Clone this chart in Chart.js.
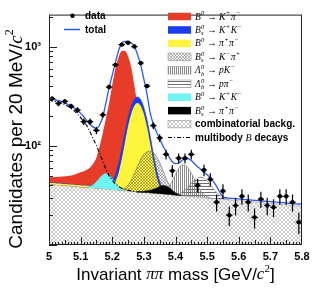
<!DOCTYPE html>
<html>
<head>
<meta charset="utf-8">
<script src="https://cdn.jsdelivr.net/npm/chart.js@4.4.1/dist/chart.umd.min.js"></script>
<style>
  body { margin: 0; background: #fff; }
  #wrap { width: 316px; height: 291px; position: relative; }
</style>
</head>
<body>
<div id="wrap"><canvas id="mycanvas"></canvas></div>
<script>
// grid of invariant mass values the fit curves are read at (GeV/c^2)
var masses = [5.00,5.01,5.02,5.03,5.04,5.05,5.06,5.07,5.08,5.09,
  5.10,5.11,5.12,5.13,5.14,5.15,5.16,5.17,5.18,5.19,
  5.20,5.21,5.22,5.23,5.24,5.25,5.26,5.27,5.28,5.29,
  5.30,5.31,5.32,5.33,5.34,5.35,5.36,5.37,5.38,5.39,
  5.40,5.41,5.42,5.43,5.44,5.45,5.46,5.47,5.48,5.49,
  5.50,5.51,5.52,5.53,5.54,5.55,5.56,5.57,5.58,5.59,
  5.60,5.61,5.62,5.63,5.64,5.65,5.66,5.67,5.68,5.69,
  5.70,5.71,5.72,5.73,5.74,5.75,5.76,5.77,5.78,5.79,
  5.80];

// combinatorial background level
var bkg = [41.0,40.7,40.5,40.2,40.0,39.7,39.5,39.2,39.0,38.7,
  38.5,38.2,38.0,37.8,37.5,37.3,37.1,36.8,36.6,36.4,
  36.1,35.9,35.7,35.4,35.2,35.0,34.8,34.5,34.3,34.1,
  33.9,33.7,33.5,33.2,33.0,32.8,32.6,32.4,32.2,32.0,
  31.8,31.6,31.4,31.2,31.0,30.8,30.6,30.4,30.2,30.0,
  29.8,29.6,29.4,29.3,29.1,28.9,28.7,28.5,28.4,28.2,
  28.0,27.8,27.6,27.5,27.3,27.1,26.9,26.8,26.6,26.4,
  26.2,26.1,25.9,25.7,25.6,25.4,25.2,25.1,24.9,24.8,
  24.6];

// total fit
var total = [300,296,291,285,278,270,261,251,240,227,
  212,196,179,164,154,150,163,195,270,385,
  515,690,910,1085,1125,1130,1085,1000,830,650,
  470,330,215,165,138,118,100,88,77,69,
  66,67,71,74,74,71,66,61.5,58,54,
  51,47.5,43.5,39,34,30.5,30.0,29.7,29.5,29.3,
  29.1,28.9,28.7,28.6,28.4,28.2,28.0,27.9,27.7,27.5,
  27.3,27.2,27.0,26.8,26.7,26.5,26.3,26.2,26.0,25.9,
  25.7];

// components: height above the background, starting at masses[...From]
var redFrom = 0;   // B0 -> K+ pi-
var red = [7.0,7.5,7.9,8.5,9.0,9.6,10.2,11.1,12.2,13.8,
  15.5,17.3,19.5,22.7,28.5,38.7,61,98,153,234,
  374,564,744,865,870,765,585,365,216,106,
  46,18,6.5,1.8,0.4,0];
var yellowFrom = 0;   // B0 -> pi+ pi-
var yellow = [1.5,1.5,1.5,1.5,1.5,1.5,1.5,1.5,1.5,1.5,
  1.5,1.5,1.5,1.5,1.5,1.5,1.5,1.5,1.5,2.1,
  3.6,7.7,17.7,38,73,122,175,218,235,218,
  175,121,72,37,16.4,6.3,2.1,0.6,0.2];
var bsKKFrom = 17;   // Bs -> K+ K-
var bsKK = [0.5,1.1,2.3,4.2,7.5,12,18,25,32,38,41,41,38,32,25,18,12,7.5,4.2,2.3,1.1,0.5];
var bsKpiFrom = 22;   // Bs -> K- pi+
var bsKpi = [0.4,1.0,2.4,5.2,10.1,17.8,27.8,38.9,48.5,53,55,52,45,35,24,15,8,3.5,1.5,0.5];
var lbpKFrom = 35;   // Lb -> p K-
var lbpK = [0.4,1.1,3.0,6.5,12.3,20.0,27.6,32.3,32.5,28.5,22.0,15.0,9.0,4.8,2.2,0.9,0.3];
var lbppiFrom = 39;   // Lb -> p pi-
var lbppi = [0.2,0.5,1.2,2.4,4.5,7.4,10.9,14.4,17.0,18.0,17.0,14.4,10.9,7.4,4.5,2.4,1.2,0.5,0.2];
var cyanFrom = 12;   // B0 -> K+ K-
var cyan = [0.4,1.2,3.1,6.3,10.6,14.4,16,14.4,10.6,6.3,3.1,1.2,0.4];
var bspipiFrom = 28;   // Bs -> pi+ pi-
var bspipi = [0.3,0.6,1.0,1.5,2.2,3.2,4.5,6.0,7.2,7.0,5.5,3.5,1.8,0.7,0.2];
var multiFrom = 0;   // multibody B decays
var multi = [247,243,240,234,228,220,211,199,186,170,
  154,137,120,100,80,63,47,33,21.4,13.6,
  8.9,5.6,3.3,2.0,1.2,0.6,0.3,0.1,0,0,0];

// data, 20 MeV bins
var binCentres = [5.01,5.03,5.05,5.07,5.09,5.11,5.13,5.15,5.17,5.19,
  5.21,5.23,5.25,5.27,5.29,5.31,5.33,5.35,5.37,5.39,
  5.41,5.43,5.45,5.47,5.49,5.51,5.53,5.55,5.57,5.59,
  5.61,5.63,5.65,5.67,5.69,5.71,5.73,5.75,5.77,5.79];
var counts = [299,267,280,250,229,175,175,143,205,391,
  654,1045,1094,1000,683,400,160,120,82,56,
  75,75,82,40,57,46,27,35,20,25,
  31,27,19,29,25,24,31,31,27,17];
var binHalf = 0.01;

var componentLabels = ['B^{0} → K^{+}π^{−}','B^{0}_{s} → K^{+}K^{−}','B^{0} → π^{+}π^{−}',
  'B^{0}_{s} → K^{−}π^{+}','Λ^{0}_{b} → pK^{−}','Λ^{0}_{b} → pπ^{−}',
  'B^{0} → K^{+}K^{−}','B^{0}_{s} → π^{+}π^{−}'];

var xTickLabels = ['5','5.1','5.2','5.3','5.4','5.5','5.6','5.7','5.8'];

var ctx = document.getElementById('mycanvas').getContext('2d');

function tile(size, draw){
  var c = document.createElement('canvas');
  c.width = size; c.height = size;
  draw(c.getContext('2d'));
  return ctx.createPattern(c, 'repeat');
}
var combPat = tile(4, function(g){
  g.strokeStyle = '#a4a4a4'; g.lineWidth = 0.6;
  g.beginPath(); g.moveTo(0,0); g.lineTo(4,4); g.moveTo(4,0); g.lineTo(0,4); g.stroke();
});
var kpiPat = tile(3, function(g){
  g.strokeStyle = '#444'; g.lineWidth = 0.4;
  g.beginPath(); g.moveTo(0,0); g.lineTo(3,3); g.moveTo(3,0); g.lineTo(0,3); g.stroke();
});
var pKPat = tile(2, function(g){ g.fillStyle = '#8a8a8a'; g.fillRect(0,0,1,2); });
var ppiPat = tile(3, function(g){ g.fillStyle = '#707070'; g.fillRect(0,0,3,1); });

function at(arr, from, k){ var j = k - from; return (j >= 0 && j < arr.length) ? arr[j] : 0; }
function curve(from, arr){
  return arr.map(function(h, i){ var k = from + i; return {x: masses[k], y: bkg[k] + h}; });
}

var bkgIndex = 11;
var yellowPts = curve(yellowFrom, yellow);
var bluePts = yellow.map(function(h, i){
  var k = yellowFrom + i;
  return {x: masses[k], y: bkg[k] + h + at(bsKK, bsKKFrom, k)};
});

var RED = '#e63c28', BLUE = '#1a3cf0', YELLOW = '#fff53c', CYAN = '#6ff3f3', TOTAL = '#2a58f0';

var datasets = [
  {label:'data', data: binCentres.map(function(m,i){ return {x:m, y:counts[i]}; }),
   showLine:false, pointRadius:2.2, pointBackgroundColor:'#000', pointBorderWidth:0},
  {label:'total', data: masses.map(function(m,k){ return {x:m, y:total[k]}; }),
   borderColor: TOTAL, borderWidth:1.3, fill:false},
  {label:'multibody B decays', data: multi.map(function(h,i){ var k = multiFrom+i; return {x:masses[k], y:bkg[k]+h}; }),
   borderColor:'#000', borderWidth:1.1, borderDash:[4,2,1,2], fill:false},
  {label: componentLabels[7], data: curve(bspipiFrom, bspipi), backgroundColor:'#000', borderColor:'#000', borderWidth:0.5, fill: bkgIndex},
  {label: componentLabels[6], data: curve(cyanFrom, cyan), backgroundColor: CYAN, borderColor:'#4cc8c8', borderWidth:0.5, fill: bkgIndex},
  {label: componentLabels[5], data: curve(lbppiFrom, lbppi), backgroundColor: ppiPat, borderColor:'#777', borderWidth:0.6, fill: bkgIndex},
  {label: componentLabels[4], data: curve(lbpKFrom, lbpK), backgroundColor: pKPat, borderColor:'#777', borderWidth:0.6, fill: bkgIndex},
  {label: componentLabels[3], data: curve(bsKpiFrom, bsKpi), backgroundColor: kpiPat, borderColor:'#666', borderWidth:0.6, fill: bkgIndex},
  {label: componentLabels[2], data: yellowPts, backgroundColor: YELLOW, borderWidth:0, fill: bkgIndex},
  {label: componentLabels[1], data: bluePts, backgroundColor: BLUE, borderColor: BLUE, borderWidth:0.8, fill: bkgIndex},
  {label: componentLabels[0], data: curve(redFrom, red), backgroundColor: RED, borderWidth:0, fill: bkgIndex},
  {label:'combinatorial backg.', data: masses.map(function(m,k){ return {x:m, y:bkg[k]}; }),
   backgroundColor: combPat, borderColor:'#999', borderWidth:0.6, fill:'start'}
];

// data error bars
var errorBars = {
  id: 'errorBars',
  afterDatasetsDraw: function(chart){
    var xs = chart.scales.x, ys = chart.scales.y, c = chart.ctx, a = chart.chartArea;
    c.save();
    c.beginPath(); c.rect(a.left, a.top, a.right - a.left, a.bottom - a.top); c.clip();
    c.strokeStyle = '#000'; c.lineWidth = 1.2;
    binCentres.forEach(function(m, i){
      var n = counts[i], e = Math.sqrt(n);
      var px = xs.getPixelForValue(m), py = ys.getPixelForValue(n);
      c.beginPath();
      c.moveTo(px, ys.getPixelForValue(n + e)); c.lineTo(px, ys.getPixelForValue(n - e));
      c.moveTo(xs.getPixelForValue(m - binHalf), py); c.lineTo(xs.getPixelForValue(m + binHalf), py);
      c.stroke();
    });
    c.restore();
  }
};

// frame and inside ticks, ROOT style
var frame = {
  id: 'frame',
  afterDraw: function(chart){
    var a = chart.chartArea, c = chart.ctx, xs = chart.scales.x, ys = chart.scales.y;
    c.save();
    c.strokeStyle = '#222'; c.lineWidth = 1;
    c.strokeRect(a.left + 0.5, a.top + 0.5, a.right - a.left - 1, a.bottom - a.top - 1);
    ys.ticks.forEach(function(t){
      var v = t.value, e = Math.floor(Math.log10(v) + 1e-9), mant = v / Math.pow(10, e);
      if (Math.abs(mant - Math.round(mant)) > 1e-6 || v >= ys.max) return;
      var py = Math.round(ys.getPixelForValue(v)) + 0.5;
      c.beginPath(); c.moveTo(a.left, py); c.lineTo(a.left + (Math.round(mant) === 1 ? 8 : 4), py); c.stroke();
    });
    for (var k = 1; k < 80; k++){
      var px = Math.round(xs.getPixelForValue(5 + k * 0.01)) + 0.5;
      var len = (k % 10 === 0) ? 8 : (k % 5 === 0 ? 5 : 3);
      c.beginPath(); c.moveTo(px, a.bottom); c.lineTo(px, a.bottom - len); c.stroke();
    }
    c.restore();
  }
};

// draw a run of [text, font, dy] pieces starting at x
function drawRun(c, parts, x, y){
  parts.forEach(function(p){
    c.font = p[1];
    c.fillText(p[0], x, y + (p[2] || 0));
    x += c.measureText(p[0]).width;
  });
  return x;
}
function runWidth(c, parts){
  var w = 0;
  parts.forEach(function(p){ c.font = p[1]; w += c.measureText(p[0]).width; });
  return w;
}

var sans17 = '17px "Liberation Sans"', serifI17 = 'italic 17px "Liberation Serif"';
var sans19 = '19px "Liberation Sans"', serifI19 = 'italic 19px "Liberation Serif"';
var xTitle = [['Invariant ', sans17], ['ππ', serifI17], [' mass [GeV/', sans17], ['c', serifI17],
  ['2', '11px "Liberation Serif"', -6], [']', sans17]];
var yTitle = [['Candidates per 20 MeV/', sans19], ['c', serifI19], ['2', '12px "Liberation Serif"', -7]];

var axisTitles = {
  id: 'axisTitles',
  afterDraw: function(chart){
    var c = chart.ctx, a = chart.chartArea;
    c.save();
    c.fillStyle = '#000'; c.textBaseline = 'middle'; c.textAlign = 'left';
    var wx = runWidth(c, xTitle);
    drawRun(c, xTitle, (a.left + a.right) / 2 - wx / 2, 275);
    c.translate(16.5, 139);
    c.rotate(-Math.PI / 2);
    var wy = runWidth(c, yTitle);
    drawRun(c, yTitle, -wy / 2, 0);
    c.restore();
  }
};

function parseTex(s){
  var out = [], re = /([\^_])\{([^}]*)\}|([^\^_]+)/g, m;
  while ((m = re.exec(s))){
    if (m[3] !== undefined) out.push({b:m[3], sp:'', sb:''});
    else if (m[1] === '^') out[out.length-1].sp = m[2];
    else out[out.length-1].sb = m[2];
  }
  return out;
}
function drawTex(c, s, x, y){
  parseTex(s).forEach(function(tk){
    c.font = 'italic 9.5px "Liberation Serif"';
    c.fillText(tk.b, x, y);
    x += c.measureText(tk.b).width;
    if (tk.sp || tk.sb){
      c.font = 'italic 6.5px "Liberation Serif"';
      var w = 0;
      if (tk.sp){ c.fillText(tk.sp, x + 0.3, y - 3.3); w = c.measureText(tk.sp).width; }
      if (tk.sb){ c.fillText(tk.sb, x + 0.3, y + 3.0); w = Math.max(w, c.measureText(tk.sb).width); }
      x += w + 0.8;
    }
  });
}

var legendBox = {
  id: 'legendBox',
  afterDraw: function(chart){
    var c = chart.ctx;
    c.save();
    c.textBaseline = 'middle'; c.textAlign = 'left'; c.fillStyle = '#000';
    // data / total
    c.beginPath(); c.arc(72.5, 15.7, 2.2, 0, Math.PI * 2); c.fill();
    c.strokeStyle = TOTAL; c.lineWidth = 1.5;
    c.beginPath(); c.moveTo(64, 29.5); c.lineTo(80, 29.5); c.stroke();
    c.font = 'bold 10px "Liberation Sans"';
    c.fillText('data', 85, 16); c.fillText('total', 85, 30);
    // components
    var fills = [RED, BLUE, YELLOW, kpiPat, pKPat, ppiPat, CYAN, '#000', combPat];
    var sx = 168, sw = 23, sh = 7.5, tx = 195;
    fills.forEach(function(f, i){
      var y = 16.5 + i * 13.45;
      c.fillStyle = f;
      c.fillRect(sx, y - sh / 2, sw, sh);
      if (typeof f !== 'string'){
        c.strokeStyle = '#999'; c.lineWidth = 0.6;
        c.strokeRect(sx, y - sh / 2, sw, sh);
      }
      c.fillStyle = '#000';
      if (i < 8) drawTex(c, componentLabels[i], tx, y + 0.5);
      else { c.font = 'bold 10px "Liberation Sans"'; c.fillText('combinatorial backg.', tx, y + 0.5); }
    });
    var yl = 16.5 + 9 * 13.45;
    c.strokeStyle = '#000'; c.lineWidth = 1.1; c.setLineDash([4,2,1,2]);
    c.beginPath(); c.moveTo(sx, yl); c.lineTo(sx + sw, yl); c.stroke();
    c.setLineDash([]);
    drawRun(c, [['multibody ', 'bold 10px "Liberation Sans"'], ['B', 'italic 10px "Liberation Serif"'],
      [' decays', 'bold 10px "Liberation Sans"']], tx, yl + 0.5);
    c.restore();
  }
};

var tickFont = {family: 'Liberation Sans', size: 11, weight: 'bold'};

new Chart(ctx, {
  type: 'line',
  data: {datasets: datasets},
  options: {
    responsive: true,
    maintainAspectRatio: false,
    animation: false,
    devicePixelRatio: 1,
    layout: {padding: {top: 7, right: 14, left: 0, bottom: 0}},
    elements: {point: {radius: 0}, line: {cubicInterpolationMode: 'monotone'}},
    plugins: {legend: {display: false}, tooltip: {enabled: false}},
    scales: {
      x: {
        type: 'linear', min: 5, max: 5.8,
        grid: {display: false, drawTicks: false}, border: {display: false},
        ticks: {stepSize: 0.1, autoSkip: false, maxRotation: 0, padding: 5, color: '#000', font: tickFont,
          callback: function(v){ return xTickLabels[Math.round((v - 5) * 10)]; }},
        afterFit: function(s){ s.height = 46; }
      },
      y: {
        type: 'logarithmic', min: 10, max: 2100,
        grid: {display: false, drawTicks: false}, border: {display: false},
        ticks: {autoSkip: false, padding: 8, color: '#000', font: tickFont,
          callback: function(v){ return v === 100 ? '10²' : (v === 1000 ? '10³' : ''); }},
        afterFit: function(s){ s.width = 49; }
      }
    }
  },
  plugins: [errorBars, frame, axisTitles, legendBox]
});
</script>
</body>
</html>
